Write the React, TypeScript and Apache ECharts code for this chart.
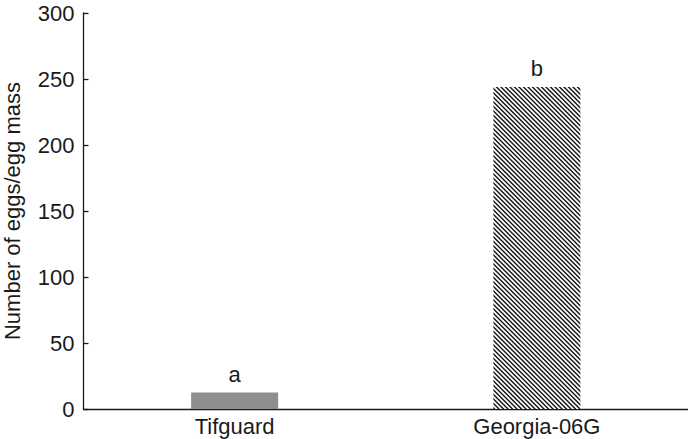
import { useEffect, useRef } from "react";
import * as echarts from "echarts";

const cultivars = ["Tifguard", "Georgia-06G"];
const eggsPerMass = [12.5, 244];
const groupLetters = ["a", "b"];
const yTicks = { min: 0, max: 300, interval: 50 };

const FONT = "Liberation Sans, Arial, sans-serif";
const INK = "#1a1a1a";

// backslash hatch tile for the Georgia-06G bar (two stripes per 9px tile)
const makeHatch = () => {
  const s = 9;
  const c = document.createElement("canvas");
  c.width = s;
  c.height = s;
  const ctx = c.getContext("2d")!;
  ctx.fillStyle = "#ffffff";
  ctx.fillRect(0, 0, s, s);
  ctx.strokeStyle = "#111111";
  ctx.lineWidth = 1.4;
  ctx.beginPath();
  for (const off of [-9, -4.5, 0, 4.5, 9]) {
    ctx.moveTo(off - 1, -1);
    ctx.lineTo(off + s + 1, s + 1);
  }
  ctx.stroke();
  return c.toDataURL();
};

const App: React.FC = () => {
  const chartRef = useRef<HTMLDivElement>(null);

  useEffect(() => {
    const chart = echarts.init(chartRef.current, null, { renderer: "svg" });
    const hatch = makeHatch();

    chart.setOption({
      animation: false,
      grid: { left: 83.5, right: 0, top: 13, bottom: 30, outerBoundsMode: "none" },
      xAxis: {
        type: "category",
        data: cultivars,
        axisLine: { lineStyle: { color: INK, width: 1.3 } },
        axisTick: { show: false },
        axisLabel: { color: INK, fontSize: 22, fontFamily: FONT, margin: 6 },
      },
      yAxis: {
        type: "value",
        min: yTicks.min,
        max: yTicks.max,
        interval: yTicks.interval,
        name: "Number of eggs/egg mass",
        nameLocation: "middle",
        nameGap: 60,
        nameTextStyle: { color: INK, fontSize: 22, fontFamily: FONT },
        axisLine: { show: true, lineStyle: { color: INK, width: 1.3 } },
        axisTick: { show: true, inside: true, length: 5, lineStyle: { color: INK, width: 1.3 } },
        axisLabel: { color: INK, fontSize: 22, fontFamily: FONT, margin: 9 },
        splitLine: { show: false },
      },
      series: [
        {
          type: "bar",
          barWidth: 87,
          data: eggsPerMass.map((v, i) => ({
            value: v,
            itemStyle: {
              color: i === 0 ? "#8e8e8e" : { image: hatch, repeat: "repeat" },
            },
          })),
          label: {
            show: true,
            position: "top",
            distance: 7,
            color: INK,
            fontSize: 22,
            fontFamily: FONT,
            formatter: (p: any) => groupLetters[p.dataIndex],
          },
        },
      ],
    });

    return () => {
      chart.dispose();
    };
  }, []);

  return (
    <div
      ref={chartRef}
      style={{ position: "fixed", left: 0, top: 0, width: 688, height: 439, background: "#fff" }}
    />
  );
};

export default App;
